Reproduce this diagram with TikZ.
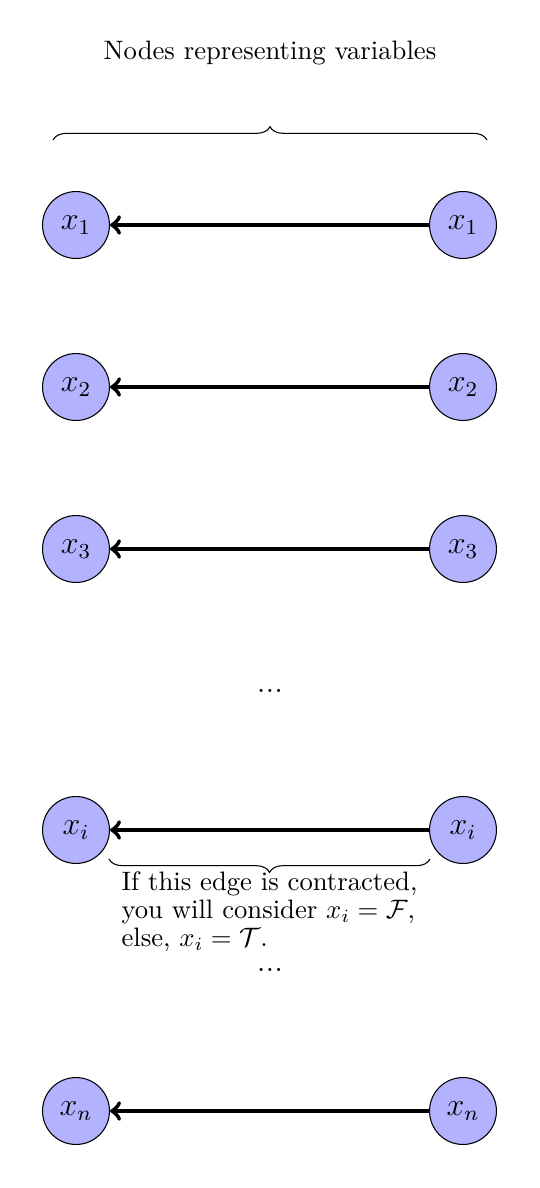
\documentclass[tikz,border=0pt]{standalone}
\usetikzlibrary{decorations.pathreplacing,arrows}
\begin{document}
\begin{tikzpicture}[x=0.375pt,y=-0.375pt,
  var/.style={circle,draw=black,fill=blue!30,minimum size=25.1pt,inner sep=0pt,font=\large},
  edgearrow/.style={->,>=to,line width=1.6pt},
  bracestyle/.style={decorate,decoration={brace,amplitude=5pt},thin},
  plain/.style={inner sep=0pt}]
\useasboundingbox (0,0) rectangle (540,1188);
\node[plain,anchor=base] (title) at (270,59) {Nodes representing variables};
\coordinate (tb1) at (53,140);
\coordinate (tb2) at (487,140);
\draw[bracestyle] (tb1) -- (tb2);
\foreach \i/\y/\lab in {1/225/1,2/387/2,3/549/3,i/830/i,n/1111/n}{
  \node[var] (l\i) at (76,\y) {$x_{\lab}$};
  \node[var] (r\i) at (463,\y) {$x_{\lab}$};
  \draw[edgearrow] (r\i) -- (l\i);
}
\node[plain,anchor=base,font=\large] (dots1) at (270,692) {...};
\coordinate (bb1) at (430,859);
\coordinate (bb2) at (109,859);
\draw[bracestyle] (bb1) -- (bb2);
\node[plain,anchor=north west,align=left,font=\fontsize{10pt}{10.6pt}\selectfont] (note) at (121,871)
  {If this edge is contracted,\\you will consider $x_i=\mathcal{F}$,\\else, $x_i=\mathcal{T}$.};
\node[plain,anchor=base,font=\large] (dots2) at (270,971) {...};
\end{tikzpicture}
\end{document}
